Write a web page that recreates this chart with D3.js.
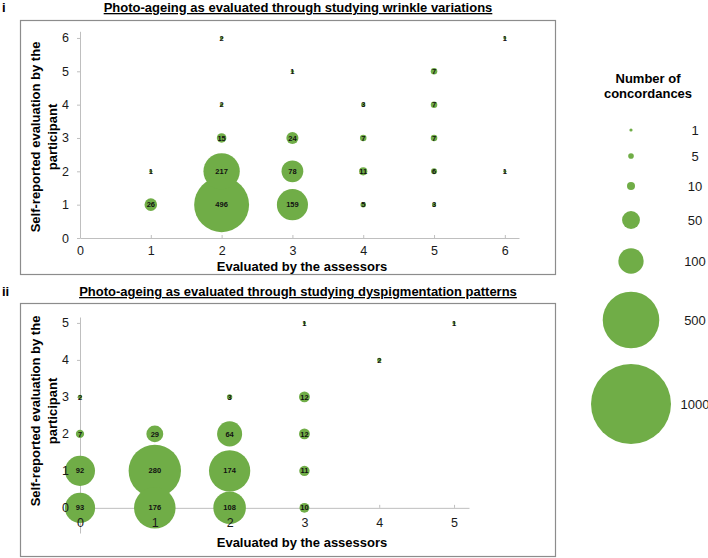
<!DOCTYPE html>
<html>
<head>
<meta charset="utf-8">
<script src="https://cdn.jsdelivr.net/npm/d3@7"></script>
<style>
  body { margin: 0; background: #fff; }
  text { font-family: Arial, "Liberation Sans", sans-serif; }
</style>
</head>
<body>
<div id="chart"></div>
<script>
// panel i : wrinkle variations
var wrinkleAssessor = [1, 1, 2, 2, 2, 2, 2, 3, 3, 3, 3, 4, 4, 4, 4, 5, 5, 5, 5, 5, 6, 6];
var wrinkleSelf     = [2, 1, 6, 4, 3, 2, 1, 5, 3, 2, 1, 4, 3, 2, 1, 5, 4, 3, 2, 1, 6, 2];
var wrinkleCount    = [1, 26, 2, 2, 15, 217, 496, 1, 24, 78, 159, 3, 7, 11, 5, 7, 7, 7, 6, 3, 1, 1];
var wrinkleTicks    = [0, 1, 2, 3, 4, 5, 6];

// panel ii : dyspigmentation patterns
var pigmentAssessor = [0, 0, 0, 0, 1, 1, 1, 2, 2, 2, 2, 3, 3, 3, 3, 3, 4, 5];
var pigmentSelf     = [3, 2, 1, 0, 2, 1, 0, 3, 2, 1, 0, 5, 3, 2, 1, 0, 4, 5];
var pigmentCount    = [2, 7, 92, 93, 29, 280, 176, 3, 64, 174, 108, 1, 12, 12, 11, 10, 2, 1];
var pigmentXTicks   = [0, 1, 2, 3, 4, 5];
var pigmentYTicks   = [0, 1, 2, 3, 4, 5];

// legend
var legendValues = [1, 5, 10, 50, 100, 500, 1000];

var green = "#70ad47";
var axisGrey = "#bfbfbf";

var svg = d3.select("#chart")
    .append("svg")
    .attr("width", 708)
    .attr("height", 558);

function drawPanel(p) {
    var x = d3.scaleLinear().domain(p.xDomain).range(p.xRange);
    var y = d3.scaleLinear().domain(p.yDomain).range(p.yRange);
    var r = d3.scaleSqrt().domain([0, 1000]).range([0, p.rMax]);
    var fmt = d3.format("d");

    // frame
    svg.append("rect")
        .attr("x", p.box[0] + 0.5)
        .attr("y", p.box[1] + 0.5)
        .attr("width", p.box[2])
        .attr("height", p.box[3])
        .attr("fill", "none")
        .attr("stroke", "#8c8c8c")
        .attr("stroke-width", 1.2);

    // panel letter + title
    svg.append("text")
        .attr("x", 2)
        .attr("y", p.titleY)
        .attr("font-size", 13)
        .attr("font-weight", "bold")
        .text(p.letter);

    svg.append("text")
        .attr("x", 298)
        .attr("y", p.titleY)
        .attr("text-anchor", "middle")
        .attr("font-size", 13)
        .attr("font-weight", "bold")
        .attr("text-decoration", "underline")
        .text(p.title);

    // axis lines (behind bubbles)
    var xLines = svg.append("g")
        .attr("transform", "translate(0," + y(0) + ")")
        .call(d3.axisBottom(x).tickValues(p.xTicks).tickSize(-3).tickSizeOuter(0).tickFormat(""));
    var yLines = svg.append("g")
        .attr("transform", "translate(" + x(0) + ",0)")
        .call(d3.axisLeft(y).tickValues(p.yTicks).tickSize(3).tickSizeOuter(0).tickFormat(""));
    [xLines, yLines].forEach(function (g) {
        g.selectAll("path, line").attr("stroke", axisGrey);
    });

    // bubbles
    var data = p.count.map(function (c, i) {
        return { a: p.assessor[i], s: p.self[i], n: c };
    });
    data.sort(function (a, b) { return b.n - a.n; });

    svg.append("g")
        .selectAll("circle")
        .data(data)
        .enter()
        .append("circle")
        .attr("cx", function (d) { return x(d.a); })
        .attr("cy", function (d) { return y(d.s); })
        .attr("r", function (d) { return Math.max(r(d.n), 1.6); })
        .attr("fill", green);

    svg.append("g")
        .selectAll("text")
        .data(data)
        .enter()
        .append("text")
        .attr("x", function (d) { return x(d.a); })
        .attr("y", function (d) { return y(d.s); })
        .attr("dy", "0.35em")
        .attr("text-anchor", "middle")
        .attr("font-size", 7.5)
        .attr("font-weight", "bold")
        .attr("fill", "#111")
        .text(function (d) { return d.n; });

    // tick labels (on top)
    var xText = svg.append("g")
        .attr("transform", "translate(0," + y(0) + ")")
        .call(d3.axisBottom(x).tickValues(p.xTicks).tickFormat(fmt).tickSize(0).tickPadding(p.xPad));
    var yText = svg.append("g")
        .attr("transform", "translate(" + x(0) + ",0)")
        .call(d3.axisLeft(y).tickValues(p.yTicks).tickFormat(fmt).tickSize(0).tickPadding(11));
    [xText, yText].forEach(function (g) {
        g.select(".domain").remove();
        g.selectAll("text")
            .attr("font-size", 12.5)
            .attr("fill", "#1a1a1a")
            .style("font-family", "Arial, 'Liberation Sans', sans-serif");
    });

    // axis titles
    svg.append("text")
        .attr("x", 302)
        .attr("y", p.xTitleY)
        .attr("text-anchor", "middle")
        .attr("font-size", 13)
        .attr("font-weight", "bold")
        .text("Evaluated by the assessors");

    var yt = svg.append("text")
        .attr("transform", "translate(0," + p.yTitleMid + ") rotate(-90)")
        .attr("text-anchor", "middle")
        .attr("font-size", 13)
        .attr("font-weight", "bold");
    yt.append("tspan").attr("x", 0).attr("y", 35).attr("dy", "0.35em")
        .text("Self-reported evaluation by the");
    yt.append("tspan").attr("x", 0).attr("y", 52).attr("dy", "0.35em")
        .text("participant");
}

drawPanel({
    letter: "i",
    title: "Photo-ageing as evaluated through studying wrinkle variations",
    titleY: 12,
    box: [20, 20, 535, 254],
    xDomain: [0, 6.2], xRange: [80, 519],
    yDomain: [0, 6.2], yRange: [238, 31.3],
    xTicks: wrinkleTicks, yTicks: wrinkleTicks,
    xPad: 8,
    rMax: 39,
    assessor: wrinkleAssessor, self: wrinkleSelf, count: wrinkleCount,
    xTitleY: 271,
    yTitleMid: 137
});

drawPanel({
    letter: "ii",
    title: "Photo-ageing as evaluated through studying dyspigmentation patterns",
    titleY: 296,
    box: [20, 303, 535, 253],
    xDomain: [0, 5.2], xRange: [80, 469],
    yDomain: [-0.68, 5.16], yRange: [533, 317],
    xTicks: pigmentXTicks, yTicks: pigmentYTicks,
    xPad: 10,
    rMax: 49.5,
    assessor: pigmentAssessor, self: pigmentSelf, count: pigmentCount,
    xTitleY: 547,
    yTitleMid: 411
});

// legend
var legendR = d3.scaleSqrt().domain([0, 1000]).range([0, 40]);
var legendPos = [130, 156, 186, 220, 261, 320, 404];

var legend = svg.append("g");

legend.append("text")
    .attr("x", 648).attr("y", 83)
    .attr("text-anchor", "middle")
    .attr("font-size", 13).attr("font-weight", "bold")
    .text("Number of");
legend.append("text")
    .attr("x", 648).attr("y", 98)
    .attr("text-anchor", "middle")
    .attr("font-size", 13).attr("font-weight", "bold")
    .text("concordances");

legend.selectAll("circle")
    .data(legendValues)
    .enter()
    .append("circle")
    .attr("cx", 631)
    .attr("cy", function (d, i) { return legendPos[i]; })
    .attr("r", function (d) { return Math.max(legendR(d), 1.6); })
    .attr("fill", green);

legend.selectAll("text.val")
    .data(legendValues)
    .enter()
    .append("text")
    .attr("class", "val")
    .attr("x", 695)
    .attr("y", function (d, i) { return legendPos[i]; })
    .attr("dy", "0.35em")
    .attr("text-anchor", "middle")
    .attr("font-size", 13)
    .attr("fill", "#1a1a1a")
    .text(function (d) { return d; });
</script>
</body>
</html>
